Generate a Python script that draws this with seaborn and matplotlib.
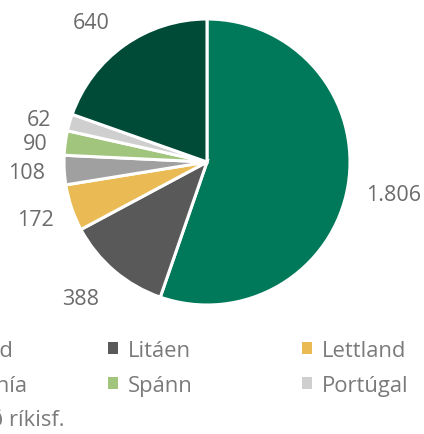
import matplotlib
matplotlib.use("Agg")
import matplotlib.pyplot as plt
import seaborn as sns

countries = ["Pólland", "Litáen", "Lettland", "Rúmenía", "Spánn", "Portúgal", "Annað ríkisf."]
values = [1806, 388, 172, 108, 90, 62, 640]
colors = ["#00785A", "#595959", "#EABB55", "#A0A0A0", "#A2C57E", "#CFCFCF", "#004B37"]

# small label nudges (pixels, x right / y down)
label_nudge = [(2, 1), (-5, -6), (6, -3), (7, 0), (14, 6), (12, 9), (-8, 13)]

sns.set_theme(style="white")
plt.rcParams["font.family"] = ["Open Sans", "DejaVu Sans"]

W, H = 424, 435
fig = plt.figure(figsize=(W / 100, H / 100), dpi=100)
cx, cy, r = 207, 163, 143
ax = fig.add_axes([(cx - r) / W, (H - cy - r) / H, 2 * r / W, 2 * r / H])

labels = [f"{v:,}".replace(",", ".") for v in values]
wedges, texts = ax.pie(
    values, labels=labels, colors=colors, startangle=90, counterclock=False,
    labeldistance=1.31,
    wedgeprops=dict(edgecolor="white", linewidth=2.2),
    textprops=dict(color="#6B6B6B", fontsize=15.5, ha="center", va="center"),
)
for t, (nx, ny) in zip(texts, label_nudge):
    x, y = t.get_position()
    t.set_position((x + nx / r, y - ny / r))
ax.set_xlim(-1, 1)
ax.set_ylim(-1, 1)
ax.set_aspect("equal")
ax.axis("off")

fs = 15.8
columns = [[0, 3, 6], [1, 4], [2, 5]]
col_x = [-83, 108, 302]
top_y = 341
for idxs, x in zip(columns, col_x):
    leg = fig.legend(
        [wedges[i] for i in idxs], [countries[i] for i in idxs],
        loc="upper left", bbox_to_anchor=(x / W, 1 - top_y / H),
        frameon=False, fontsize=fs, handlelength=0.45, handleheight=0.45,
        handletextpad=0.45, borderpad=0, borderaxespad=0, labelspacing=0.62,
        labelcolor="#7A7A7A",
    )
    for h in leg.legend_handles:
        h.set_edgecolor("none")

fig.savefig("out.png", dpi=100)
